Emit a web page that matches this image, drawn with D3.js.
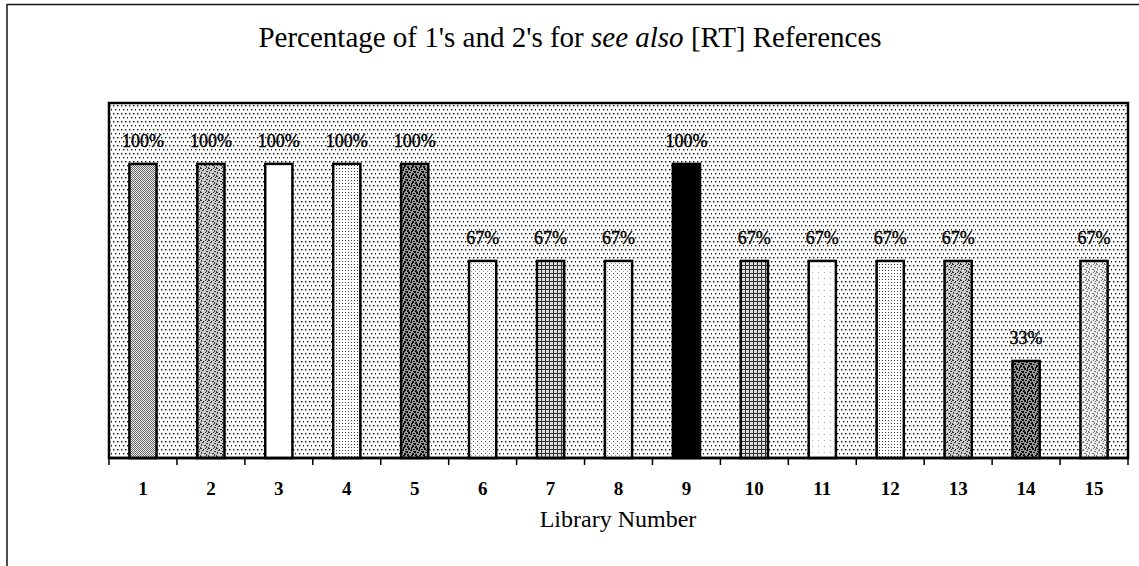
<!DOCTYPE html>
<html>
<head>
<meta charset="utf-8">
<script src="https://cdn.jsdelivr.net/npm/d3@7"></script>
<style>
body{
	margin:0;
	background-color: white;
}
</style>
</head>
<body>
<div id="chart"></div>
<script>
// data
var libraries = [1,2,3,4,5,6,7,8,9,10,11,12,13,14,15];
var percents = [100,100,100,100,100,67,67,67,100,67,67,67,67,33,67];
var valueLabels = ['100%','100%','100%','100%','100%','67%','67%','67%','100%','67%','67%','67%','67%','33%','67%'];
var yDomain = [0, 120.7];

// fill of each bar (pattern id)
var fills = ['checker','noise','white','fineDots','noiseDark','lightDots','grid','lightDots','black','grid','lightDots2','fineDots','noise','noiseDark','noiseLight'];

var W = 1139, H = 566;
var margin = {left:109, right:11, top:103, bottom:108};
var serif = '"Liberation Serif", "Times New Roman", serif';

var svg = d3.select('#chart').append('svg')
	.attr('width',W)
	.attr('height',H)
	.attr('font-family',serif);

var defs = svg.append('defs');

function pat(id,size){
	var p = defs.append('pattern').attr('id',id)
		.attr('patternUnits','userSpaceOnUse')
		.attr('width',size).attr('height',size);
	return p;
}

// background dots
var bg = pat('bgDots',8);
bg.append('rect').attr('width',8).attr('height',8).attr('fill','#fff');
[[1,1],[5,1],[3,5],[7,5]].forEach(function(d){
	bg.append('rect').attr('x',d[0]).attr('y',d[1]).attr('width',1.4).attr('height',1.4).attr('fill','#111');
});

var ck = pat('checker',2);
ck.append('rect').attr('width',2).attr('height',2).attr('fill','#eee');
ck.append('rect').attr('width',1).attr('height',1).attr('fill','#666');
ck.append('rect').attr('x',1).attr('y',1).attr('width',1).attr('height',1).attr('fill','#666');

var fd = pat('fineDots',3);
fd.append('rect').attr('width',3).attr('height',3).attr('fill','#fff');
fd.append('rect').attr('width',1).attr('height',1).attr('fill','#444');

var ld = pat('lightDots',4);
ld.append('rect').attr('width',4).attr('height',4).attr('fill','#fff');
ld.append('rect').attr('x',1).attr('y',1).attr('width',1).attr('height',1).attr('fill','#555');
ld.append('rect').attr('x',3).attr('y',3).attr('width',1).attr('height',1).attr('fill','#999');

var ld2 = pat('lightDots2',6);
ld2.append('rect').attr('width',6).attr('height',6).attr('fill','#fff');
ld2.append('rect').attr('x',2).attr('y',2).attr('width',1).attr('height',1).attr('fill','#aaa');

var gr = pat('grid',4);
gr.append('rect').attr('width',4).attr('height',4).attr('fill','#ddd');
gr.append('rect').attr('x',1).attr('width',1).attr('height',4).attr('fill','#333');
gr.append('rect').attr('y',1).attr('width',4).attr('height',1).attr('fill','#333');

// noisy textures drawn from a fixed cell layout
function noisePat(id,bgc,dark,cells){
	var p = pat(id,8);
	p.append('rect').attr('width',8).attr('height',8).attr('fill',bgc);
	cells.forEach(function(c){
		p.append('rect').attr('x',c[0]).attr('y',c[1]).attr('width',c[2]).attr('height',c[3]).attr('fill',dark);
	});
}
var cellsA = [[0,0,2,1],[3,1,1,2],[5,0,1,1],[6,3,2,1],[1,4,1,2],[4,5,2,1],[0,7,1,1],[6,6,1,2],[2,2,1,1],[7,1,1,1]];
var cellsB = [[0,0,2,2],[3,0,1,3],[5,1,2,1],[6,3,2,2],[1,4,2,1],[4,5,2,2],[0,6,1,2],[7,6,1,2],[2,2,1,1],[3,7,2,1],[5,3,1,1]];
noisePat('noise','#ccc','#333',cellsA);
noisePat('noiseDark','#999','#111',cellsB);
noisePat('noiseLight','#eee','#777',cellsA);

var x = d3.scaleBand()
	.domain(libraries)
	.range([margin.left, W - margin.right])
	.paddingInner(0.6)
	.paddingOuter(0.3);

var y = d3.scaleLinear()
	.domain(yDomain)
	.range([H - margin.bottom, margin.top]);

// outer frame
svg.append('line').attr('x1',7).attr('x2',W).attr('y1',4.5).attr('y2',4.5)
	.attr('stroke','#111').attr('stroke-width',1.5);
svg.append('line').attr('x1',7).attr('x2',7).attr('y1',4).attr('y2',H)
	.attr('stroke','#111').attr('stroke-width',1.5);

// title
var title = svg.append('text')
	.attr('x',570).attr('y',47)
	.attr('text-anchor','middle')
	.attr('font-size',29)
	.attr('fill','#000');
title.append('tspan').text("Percentage of 1's and 2's for ");
title.append('tspan').attr('font-style','italic').text('see also');
title.append('tspan').text(' [RT] References');

// plot area
svg.append('rect')
	.attr('x',margin.left).attr('y',margin.top)
	.attr('width',W - margin.left - margin.right)
	.attr('height',H - margin.top - margin.bottom)
	.attr('fill','url(#bgDots)')
	.attr('stroke','#000')
	.attr('stroke-width',2.5);

// bars
svg.selectAll('rect.bar').data(percents).enter().append('rect')
	.attr('class','bar')
	.attr('x',function(d,i){ return x(libraries[i]); })
	.attr('width',x.bandwidth())
	.attr('y',function(d){ return y(d); })
	.attr('height',function(d){ return y(0) - y(d); })
	.attr('fill',function(d,i){ return fills[i]=='white' ? '#fff' : fills[i]=='black' ? '#000' : 'url(#'+fills[i]+')'; })
	.attr('stroke','#000')
	.attr('stroke-width',2.5);

// value labels
svg.selectAll('text.val').data(percents).enter().append('text')
	.attr('class','val')
	.attr('x',function(d,i){ return x(libraries[i]) + x.bandwidth()/2; })
	.attr('y',function(d){ return y(d) - 17; })
	.attr('text-anchor','middle')
	.attr('font-size',18)
	.attr('fill','#000')
	.attr('stroke','#000')
	.attr('stroke-width',0.4)
	.text(function(d,i){ return valueLabels[i]; });

// x axis with ticks between categories
var bounds = d3.range(libraries.length + 1).map(function(i){ return margin.left + i*(W - margin.left - margin.right)/libraries.length; });
var axisG = svg.append('g');
axisG.append('line')
	.attr('x1',margin.left).attr('x2',W - margin.right)
	.attr('y1',y(0)).attr('y2',y(0))
	.attr('stroke','#000').attr('stroke-width',2.5);
axisG.selectAll('line.tick').data(bounds).enter().append('line')
	.attr('class','tick')
	.attr('x1',function(d){ return d; }).attr('x2',function(d){ return d; })
	.attr('y1',y(0)).attr('y2',y(0) + 7)
	.attr('stroke','#000').attr('stroke-width',1.5);
axisG.selectAll('text.lab').data(libraries).enter().append('text')
	.attr('class','lab')
	.attr('x',function(d){ return x(d) + x.bandwidth()/2; })
	.attr('y',y(0) + 37)
	.attr('text-anchor','middle')
	.attr('font-size',19)
	.attr('font-weight','bold')
	.text(function(d){ return d; });

svg.append('text')
	.attr('x',618).attr('y',527)
	.attr('text-anchor','middle')
	.attr('font-size',24)
	.text('Library Number');
</script>
</body>
</html>
